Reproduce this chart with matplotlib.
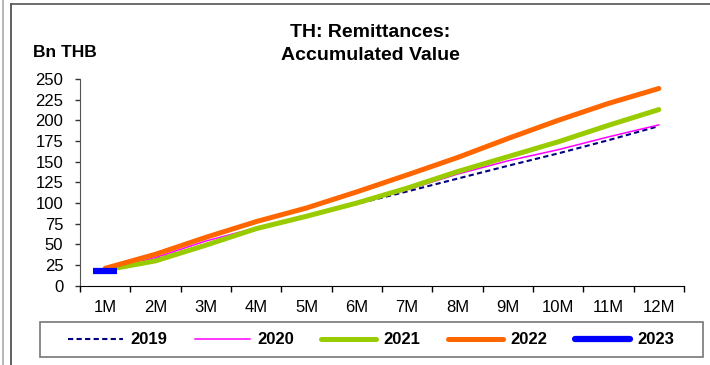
import matplotlib
matplotlib.use("Agg")
import matplotlib.pyplot as plt
from matplotlib.lines import Line2D
from matplotlib.patches import Rectangle

plt.rcParams['font.family'] = ['Liberation Sans', 'DejaVu Sans']

months = ['1M', '2M', '3M', '4M', '5M', '6M', '7M', '8M', '9M', '10M', '11M', '12M']
y2019 = [18, 32, 50, 68, 83.5, 99, 114, 129.5, 145, 160, 176, 193]
y2020 = [18, 34, 54, 70, 83, 99, 116, 135, 151, 164.5, 180, 194.5]
y2021 = [19, 30, 49, 69, 84, 100, 118, 138, 156, 174, 194, 213]
y2022 = [21, 38, 58.5, 77.5, 94, 113.5, 134, 155, 178, 200, 220.5, 238.5]
y2023 = [17.5]
yticks = [0, 25, 50, 75, 100, 125, 150, 175, 200, 225, 250]

fig = plt.figure(figsize=(7.1, 3.65), dpi=100)
ax = fig.add_axes([80/710, 1-285.7/365, 604/710, 206.7/365])

x = list(range(1, len(months) + 1))
ax.plot(x, y2019, color='#000080', lw=1.5, ls=(0, (2.5, 1.6)), zorder=3)
ax.plot(x, y2020, color='#FF00FF', lw=1.1, zorder=4)
ax.plot(x, y2021, color='#99CC00', lw=3.6, solid_capstyle='round', zorder=5)
ax.plot(x, y2022, color='#FF6600', lw=3.6, solid_capstyle='round', zorder=6)
ax.plot(x[:len(y2023)], y2023, color='#0000FF', ls='none', marker='_',
        markersize=17, markeredgewidth=4.5, zorder=7)

ax.set_xlim(0.5, 12.5)
ax.set_ylim(0, 250)
ax.set_xticks(x)
ax.set_xticklabels(months, fontsize=12)
ax.set_xticks([i + 0.5 for i in range(0, 13)], minor=True)
ax.tick_params(axis='x', which='major', length=0, pad=10.5)
ax.tick_params(axis='x', which='minor', length=4, width=1, direction='out', color='black')
ax.set_yticks(yticks)
ax.set_yticklabels([str(v) for v in yticks], fontsize=12)
ax.tick_params(axis='y', length=3.5, width=1, direction='out', pad=8.5, color='#333333')
for s in ['top', 'right']:
    ax.spines[s].set_visible(False)
ax.spines['left'].set_color('#555555')
ax.spines['bottom'].set_color('black')

# two-line chart title
fig.text(370/710, 1-37/365, 'TH: Remittances:', ha='center', va='baseline',
         fontsize=14, fontweight='bold')
fig.text(370/710, 1-60/365, 'Accumulated Value', ha='center', va='baseline',
         fontsize=14, fontweight='bold')
fig.text(33/710, 1-57/365, 'Bn THB', ha='left', va='baseline', fontsize=12.5, fontweight='bold')

handles = [
    Line2D([], [], color='#000080', lw=1.5, ls=(0, (2.5, 1.6))),
    Line2D([], [], color='#FF00FF', lw=1.1),
    Line2D([], [], color='#99CC00', lw=3.6, solid_capstyle='round'),
    Line2D([], [], color='#FF6600', lw=3.6, solid_capstyle='round'),
    Line2D([], [], color='#0000FF', lw=4.5, solid_capstyle='round'),
]
labels = ['2019', '2020', '2021', '2022', '2023']
fig.legend(handles, labels, loc='center', bbox_to_anchor=(371/710, 1-340/365), ncol=5,
           frameon=False, prop={'size': 12, 'weight': 'bold'}, handlelength=3.3,
           handletextpad=0.45, columnspacing=1.64)
fig.patches.append(Rectangle((40/710, 1-357/365), 663/710, 35/365, transform=fig.transFigure,
                             fill=False, edgecolor='#777777', lw=1.2))

# outer frame lines
fig.lines.append(Line2D([2.5/710, 2.5/710], [0, 1], transform=fig.transFigure, color='#AAAAAA', lw=1.2))
fig.lines.append(Line2D([10.5/710, 10.5/710], [0, 1-3.5/365], transform=fig.transFigure, color='#444444', lw=1.2))
fig.lines.append(Line2D([10.5/710, 1], [1-3.5/365, 1-3.5/365], transform=fig.transFigure, color='#555555', lw=1.2))

fig.savefig('out.png', dpi=100)
